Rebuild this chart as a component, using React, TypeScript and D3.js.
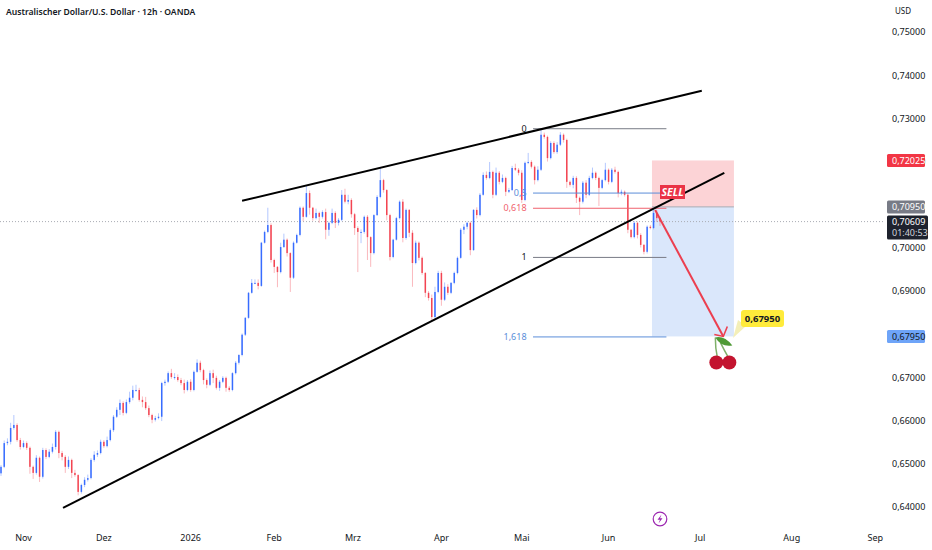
import { useEffect, useRef } from "react";
import * as d3 from "d3";

const closes = [
  0.6493, 0.6548, 0.6551, 0.6583, 0.659, 0.6555, 0.6539, 0.6548, 0.6537, 0.6493,
  0.6479, 0.6514, 0.647, 0.6532, 0.6516, 0.6528, 0.6539, 0.6574, 0.6525, 0.6516,
  0.6493, 0.6509, 0.6479, 0.6474, 0.6435, 0.6451, 0.6463, 0.6467, 0.6509, 0.6521,
  0.6525, 0.6551, 0.6541, 0.6555, 0.6578, 0.6609, 0.6625, 0.6641, 0.6618, 0.6643,
  0.6653, 0.6671, 0.6671, 0.6648, 0.6643, 0.6629, 0.6613, 0.6602, 0.6606, 0.6609,
  0.6687, 0.669, 0.671, 0.6701, 0.6701, 0.6694, 0.6687, 0.6671, 0.669, 0.6671,
  0.6713, 0.6734, 0.6717, 0.6694, 0.6683, 0.671, 0.6699, 0.6676, 0.669, 0.6699,
  0.6676, 0.6671, 0.671, 0.6734, 0.6752, 0.6799, 0.6838, 0.6896, 0.6919, 0.6919,
  0.6912, 0.7012, 0.7037, 0.7053, 0.6972, 0.6956, 0.6944, 0.7002, 0.7019, 0.6988,
  0.6931, 0.7012, 0.703, 0.7093, 0.7072, 0.7127, 0.7093, 0.7069, 0.7081, 0.7072,
  0.7083, 0.7042, 0.7058, 0.7081, 0.7058, 0.7065, 0.7123, 0.7107, 0.7111, 0.7078,
  0.7046, 0.7037, 0.7037, 0.7072, 0.7025, 0.6988, 0.7076, 0.7118, 0.7157, 0.7134,
  0.7076, 0.6979, 0.7019, 0.7069, 0.7107, 0.7023, 0.7088, 0.7035, 0.6965, 0.7012,
  0.6977, 0.6942, 0.6896, 0.6884, 0.684, 0.6898, 0.6942, 0.688, 0.691, 0.6896,
  0.6919, 0.6942, 0.6977, 0.7042, 0.7049, 0.7058, 0.6995, 0.7088, 0.7076, 0.7123,
  0.7169, 0.7162, 0.7176, 0.7123, 0.7174, 0.7153, 0.7162, 0.713, 0.7134, 0.7185,
  0.7181, 0.7174, 0.7111, 0.7197, 0.7199, 0.7188, 0.7157, 0.7181, 0.7262, 0.7257,
  0.7208, 0.7243, 0.7222, 0.7239, 0.7262, 0.725, 0.7153, 0.7146, 0.7162, 0.7116,
  0.7107, 0.7151, 0.7123, 0.7162, 0.7174, 0.7162, 0.7139, 0.7157, 0.7181, 0.7153,
  0.7181, 0.7176, 0.7127, 0.713, 0.7123, 0.7042, 0.7025, 0.7058, 0.703, 0.7007,
  0.6991, 0.7049, 0.7046, 0.7081, 0.7069, 0.7061,
];

// wick lengths in pips, above the body and below it
const upperWicks = [
  4, 6, 8, 12, 23, 4, 5, 6, 4, 3,
  3, 6, 3, 5, 4, 6, 8, 4, 3, 5,
  4, 8, 3, 7, 2, 3, 6, 8, 4, 8,
  6, 5, 4, 8, 4, 4, 6, 8, 4, 6,
  14, 10, 12, 5, 8, 12, 6, 3, 5, 8,
  3, 5, 4, 10, 9, 6, 5, 8, 4, 6,
  3, 8, 5, 3, 4, 6, 8, 5, 4, 4,
  3, 4, 2, 4, 2, 3, 2, 2, 9, 8,
  8, 2, 3, 40, 4, 3, 2, 10, 14, 3,
  2, 3, 3, 3, 3, 18, 6, 2, 10, 3,
  4, 8, 3, 10, 4, 4, 11, 14, 12, 4,
  3, 4, 6, 3, 4, 2, 2, 4, 28, 3,
  2, 3, 2, 3, 3, 6, 3, 2, 6, 5,
  3, 3, 2, 4, 8, 12, 5, 5, 10, 6,
  2, 3, 3, 4, 6, 3, 3, 2, 6, 4,
  6, 8, 23, 3, 12, 4, 8, 3, 5, 5,
  10, 4, 6, 3, 21, 4, 3, 8, 14, 5,
  3, 4, 4, 6, 6, 3, 3, 3, 5, 4,
  3, 4, 6, 5, 12, 3, 3, 3, 16, 3,
  4, 7, 3, 5, 3, 3, 2, 4, 3, 4,
  2, 3, 4, 7, 6, 3,
];

const lowerWicks = [
  6, 3, 5, 6, 4, 4, 6, 3, 5, 16,
  14, 4, 12, 4, 5, 3, 4, 6, 12, 8,
  14, 5, 12, 4, 8, 4, 5, 4, 3, 4,
  5, 3, 4, 3, 3, 4, 3, 12, 6, 3,
  4, 6, 4, 4, 12, 4, 5, 8, 4, 3,
  10, 6, 3, 4, 6, 4, 5, 8, 3, 4,
  3, 2, 5, 10, 8, 3, 12, 4, 7, 3,
  9, 4, 3, 3, 4, 3, 3, 2, 2, 3,
  8, 2, 2, 3, 6, 14, 35, 3, 2, 8,
  33, 3, 2, 3, 10, 2, 16, 6, 3, 14,
  4, 22, 14, 3, 12, 6, 3, 4, 6, 8,
  16, 93, 26, 4, 53, 32, 3, 2, 3, 6,
  12, 8, 3, 2, 3, 10, 4, 10, 55, 3,
  6, 4, 10, 6, 8, 3, 3, 14, 3, 5,
  3, 3, 3, 2, 10, 6, 12, 2, 8, 3,
  2, 4, 3, 8, 3, 6, 3, 10, 3, 2,
  3, 6, 7, 3, 3, 4, 10, 3, 3, 4,
  8, 3, 4, 4, 3, 6, 14, 4, 8, 12,
  31, 4, 8, 3, 3, 5, 42, 3, 3, 6,
  3, 4, 10, 5, 4, 8, 3, 3, 8, 6,
  6, 4, 3, 3, 9, 10,
];

const firstOpen = 0.6478;

const priceTicks = [0.75, 0.74, 0.73, 0.72, 0.7, 0.69, 0.67, 0.66, 0.65, 0.64];

const monthLabels = ["Nov", "Dez", "2026", "Feb", "Mrz", "Apr", "Mai", "Jun", "Jul", "Aug", "Sep"];
const monthBars = [7, 32, 59, 85, 109.5, 137, 162, 189, 217.5, 246, 272];

// fib retracement, from the May high to the June low
const fibHigh = 0.7276;
const fibLow = 0.6978;
const fibRatios = [0, 0.5, 0.618, 1, 1.618];
const fibNames = ["0", "0,5", "0,618", "1", "1,618"];
const fibColors = ["#787b86", "#5b8dd9", "#f0616d", "#787b86", "#5b8dd9"];

// drawn lines as [bar, price]
const upperTrend = [[75, 0.7109], [218, 0.7364]];
const lowerTrend = [[19.3, 0.6398], [225, 0.7174]];
const sellArrow = [[203.5, 0.7088], [224.7, 0.6795]];

const entryPrice = 0.7095;
const stopPrice = 0.72025;
const targetPrice = 0.6795;
const lastPrice = 0.70609;

export default function App() {
  const svgRef = useRef<SVGSVGElement>(null);

  useEffect(() => {
    const svg = d3.select(svgRef.current);
    svg.selectAll("*").remove();

    const x = d3.scaleLinear().domain([0, closes.length - 1]).range([1, 660]);
    const y = d3.scaleLinear().domain([0.64, 0.75]).range([507, 32]);
    const font = "'Noto Sans', sans-serif";

    const candles = closes.map((close, i) => {
      const open = i === 0 ? firstOpen : closes[i - 1];
      return {
        i,
        open,
        close,
        high: Math.max(open, close) + upperWicks[i] / 10000,
        low: Math.min(open, close) - lowerWicks[i] / 10000,
      };
    });

    // Position box
    const boxLeft = x(202.5);
    const boxRight = x(228);
    svg.append("rect")
      .attr("x", boxLeft)
      .attr("y", y(stopPrice))
      .attr("width", boxRight - boxLeft)
      .attr("height", y(entryPrice) - y(stopPrice))
      .attr("fill", "#fcd3d6");
    svg.append("rect")
      .attr("x", boxLeft)
      .attr("y", y(entryPrice))
      .attr("width", boxRight - boxLeft)
      .attr("height", y(targetPrice) - y(entryPrice))
      .attr("fill", "#dae7fb");
    svg.append("line")
      .attr("x1", boxLeft)
      .attr("x2", boxRight)
      .attr("y1", y(entryPrice))
      .attr("y2", y(entryPrice))
      .attr("stroke", "#a9abb3");

    // last price line
    svg.append("line")
      .attr("x1", 0)
      .attr("x2", 885)
      .attr("y1", y(lastPrice))
      .attr("y2", y(lastPrice))
      .attr("stroke", "#a9abb3")
      .attr("stroke-dasharray", "1 2");

    // Candles
    const color = (d: { open: number; close: number }) =>
      d.close >= d.open ? "#2962ff" : "#f23645";

    svg.append("g")
      .selectAll("line")
      .data(candles)
      .join("line")
      .attr("x1", (d) => x(d.i))
      .attr("x2", (d) => x(d.i))
      .attr("y1", (d) => y(d.high))
      .attr("y2", (d) => y(d.low))
      .attr("stroke", color)
      .attr("stroke-opacity", 0.35);

    svg.append("g")
      .selectAll("rect")
      .data(candles)
      .join("rect")
      .attr("x", (d) => x(d.i) - 0.75)
      .attr("y", (d) => y(Math.max(d.open, d.close)))
      .attr("width", 1.5)
      .attr("height", (d) => Math.max(1, Math.abs(y(d.open) - y(d.close))))
      .attr("fill", color)
      .attr("fill-opacity", 0.9);

    // Fib levels
    const fibs = fibRatios.map((r, i) => ({
      price: fibHigh - r * (fibHigh - fibLow),
      name: fibNames[i],
      color: fibColors[i],
    }));
    svg.append("g")
      .selectAll("line")
      .data(fibs)
      .join("line")
      .attr("x1", x(165.5))
      .attr("x2", x(207))
      .attr("y1", (d) => y(d.price))
      .attr("y2", (d) => y(d.price))
      .attr("stroke", (d) => d.color);
    svg.append("g")
      .selectAll("text")
      .data(fibs)
      .join("text")
      .attr("x", x(163.5))
      .attr("y", (d) => y(d.price) + 3)
      .attr("text-anchor", "end")
      .attr("font-family", font)
      .attr("font-size", 9)
      .attr("fill", (d) => (d.color === "#787b86" ? "#131722" : d.color))
      .text((d) => d.name);

    // Trend lines
    const line = d3.line<number[]>().x((d) => x(d[0])).y((d) => y(d[1]));
    [upperTrend, lowerTrend].forEach((t) => {
      svg.append("path")
        .attr("d", line(t))
        .attr("fill", "none")
        .attr("stroke", "#000")
        .attr("stroke-width", 2);
    });

    // SELL tag
    svg.append("rect")
      .attr("x", 660)
      .attr("y", 185)
      .attr("width", 25)
      .attr("height", 14)
      .attr("fill", "#ea3346");
    svg.append("text")
      .attr("x", 672.5)
      .attr("y", 196)
      .attr("text-anchor", "middle")
      .attr("font-family", font)
      .attr("font-size", 10.5)
      .attr("font-weight", 700)
      .attr("font-style", "italic")
      .attr("fill", "#fff")
      .text("SELL");

    // Sell arrow
    const tip = sellArrow[1];
    const tx = x(tip[0]);
    const ty = y(tip[1]);
    svg.append("path")
      .attr("d", line(sellArrow))
      .attr("fill", "none")
      .attr("stroke", "#ec3f4f")
      .attr("stroke-width", 2);
    svg.append("path")
      .attr("d", `M${tx - 9},${ty - 2} L${tx},${ty} L${tx + 4},${ty - 10}`)
      .attr("fill", "none")
      .attr("stroke", "#ec3f4f")
      .attr("stroke-width", 1.6);

    // Cherries under the arrow
    const stems = svg.append("g").attr("fill", "none").attr("stroke", "#7fb069").attr("stroke-width", 1.5);
    stems.append("path").attr("d", `M${tx - 8},${ty + 1} Q${tx - 8},${ty + 12} ${tx - 6},${ty + 21}`);
    stems.append("path").attr("d", `M${tx - 3},${ty + 6} Q${tx + 1},${ty + 14} ${tx + 5},${ty + 21}`);
    svg.append("path")
      .attr("d", `M${tx - 8},${ty + 1} Q${tx + 1},${ty - 1} ${tx + 9},${ty + 9} Q${tx - 2},${ty + 11} ${tx - 8},${ty + 1} Z`)
      .attr("fill", "#4e9a35");
    [-7, 6].forEach((dx) => {
      svg.append("circle")
        .attr("cx", tx + dx)
        .attr("cy", ty + 26)
        .attr("r", 7)
        .attr("fill", "#c3142f");
    });

    // Target callout
    svg.append("path")
      .attr("d", "M746,326 L733,338 L738,320 Z")
      .attr("fill", "#f4efb8");
    svg.append("rect")
      .attr("x", 741)
      .attr("y", 310)
      .attr("width", 43)
      .attr("height", 17)
      .attr("rx", 3)
      .attr("fill", "#ffeb3b");
    svg.append("text")
      .attr("x", 762.5)
      .attr("y", 322)
      .attr("text-anchor", "middle")
      .attr("font-family", font)
      .attr("font-size", 9.5)
      .attr("font-weight", 700)
      .attr("fill", "#131722")
      .text("0,67950");

    // Price axis
    const fmt = (v: number) => v.toFixed(5).replace(".", ",");
    const priceAxis = d3.axisRight(y).tickValues(priceTicks).tickFormat((v) => fmt(+v)).tickSize(0).tickPadding(0);
    const axisG = svg.append("g").attr("transform", "translate(892,0)").call(priceAxis);
    axisG.select(".domain").remove();
    axisG.selectAll("text")
      .attr("font-family", font)
      .attr("font-size", 9)
      .attr("fill", "#131722");

    svg.append("text")
      .attr("x", 895)
      .attr("y", 14)
      .attr("font-family", font)
      .attr("font-size", 8)
      .attr("fill", "#131722")
      .text("USD");

    const badges = [
      { price: stopPrice, bg: "#f23645", text: "#fff" },
      { price: entryPrice, bg: "#787b86", text: "#fff" },
      { price: targetPrice, bg: "#6ea4f8", text: "#131722" },
    ];
    badges.forEach((b) => {
      svg.append("rect")
        .attr("x", 887)
        .attr("y", y(b.price) - 6.5)
        .attr("width", 38)
        .attr("height", 13)
        .attr("rx", 1.5)
        .attr("fill", b.bg);
      svg.append("text")
        .attr("x", 892)
        .attr("y", y(b.price) + 3.2)
        .attr("font-family", font)
        .attr("font-size", 9)
        .attr("fill", b.text)
        .text(fmt(b.price));
    });

    // Last price badge with countdown
    svg.append("rect")
      .attr("x", 887)
      .attr("y", y(lastPrice) - 6)
      .attr("width", 41)
      .attr("height", 24)
      .attr("rx", 1.5)
      .attr("fill", "#1e222d");
    svg.append("text")
      .attr("x", 892)
      .attr("y", y(lastPrice) + 3.2)
      .attr("font-family", font)
      .attr("font-size", 9)
      .attr("fill", "#fff")
      .text(fmt(lastPrice));
    svg.append("text")
      .attr("x", 892)
      .attr("y", y(lastPrice) + 14.5)
      .attr("font-family", font)
      .attr("font-size", 9)
      .attr("fill", "#d1d4dc")
      .text("01:40:53");

    // Time axis
    svg.append("g")
      .selectAll("text")
      .data(monthLabels)
      .join("text")
      .attr("x", (_, i) => x(monthBars[i]))
      .attr("y", 541)
      .attr("text-anchor", "middle")
      .attr("font-family", font)
      .attr("font-size", 9)
      .attr("fill", "#131722")
      .text((d) => d);

    // Lightning badge
    svg.append("circle")
      .attr("cx", 660)
      .attr("cy", 519)
      .attr("r", 6.8)
      .attr("fill", "#fff")
      .attr("stroke", "#9c27b0")
      .attr("stroke-width", 1.2);
    svg.append("path")
      .attr("d", "M661.5,514.5 L657.5,519.8 L660,519.8 L658.5,523.5 L662.5,518.2 L660,518.2 Z")
      .attr("fill", "#9c27b0");

    // Title
    svg.append("text")
      .attr("x", 6)
      .attr("y", 15)
      .attr("font-family", font)
      .attr("font-size", 8.6)
      .attr("font-weight", 600)
      .attr("fill", "#131722")
      .text("Australischer Dollar/U.S. Dollar · 12h · OANDA");
  }, []);

  return (
    <svg
      ref={svgRef}
      width={932}
      height={550}
      style={{ position: "absolute", left: 0, top: 0, background: "#fff" }}
    />
  );
}
